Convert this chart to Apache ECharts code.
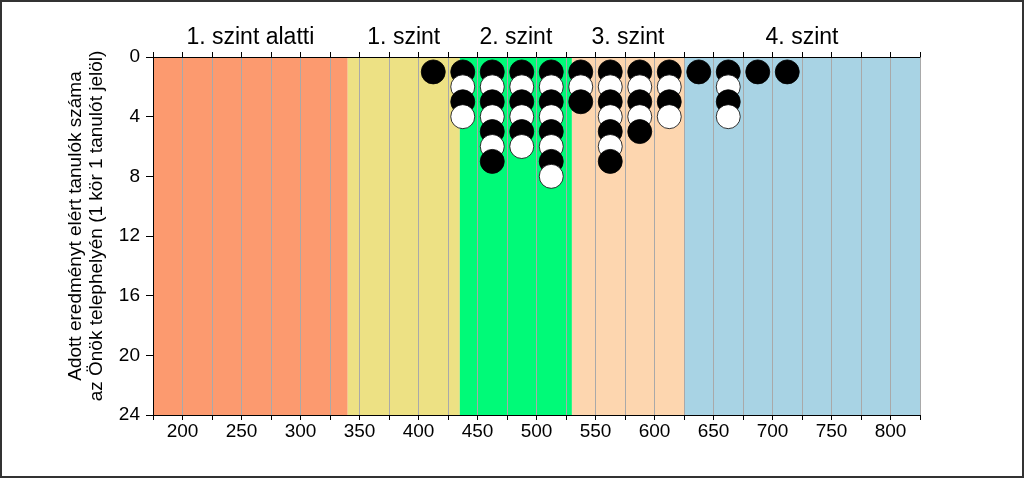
<!DOCTYPE html>
<html><head><meta charset="utf-8">
<script src="https://cdn.jsdelivr.net/npm/echarts@6/dist/echarts.min.js"></script>
<style>html,body{margin:0;padding:0;background:#fff}#c{width:1024px;height:478px}</style>
</head><body><div id="c"></div>
<script>
// score bins (centre of each 25-point bin) and number of students in each
const scoreBins = [412.5, 437.5, 462.5, 487.5, 512.5, 537.5, 562.5, 587.5, 612.5, 637.5, 662.5, 687.5, 712.5];
const studentCounts = [1, 4, 7, 6, 8, 3, 7, 5, 4, 1, 4, 1, 1];
// proficiency levels
const levelNames = ['1. szint alatti', '1. szint', '2. szint', '3. szint', '4. szint'];
const levelFrom = [175, 340, 435, 530, 625];
const levelTo = [340, 435, 530, 625, 825];
const levelColors = ['#FC9A6F', '#EDE184', '#00FA78', '#FDD6AF', '#A8D3E4'];
const yAxisTitle = ['Adott eredményt elért tanulók száma', 'az Önök telephelyén (1 kör 1 tanulót jelöl)'];

const FONT = "'Liberation Sans', Arial, sans-serif";

const points = [];
scoreBins.forEach((x, i) => {
  for (let k = 1; k <= studentCounts[i]; k++) {
    const black = k % 2 === 1;
    points.push({
      value: [x, k],
      itemStyle: black ? { color: '#000', borderColor: '#000', borderWidth: 0.8, opacity: 1 }
                       : { color: '#fff', borderColor: '#000', borderWidth: 0.8, opacity: 1 }
    });
  }
});

const areas = levelNames.map((n, i) => [
  { name: n, xAxis: levelFrom[i], itemStyle: { color: levelColors[i], opacity: 1 } },
  { xAxis: levelTo[i] }
]);

const chart = echarts.init(document.getElementById('c'), null, { renderer: 'canvas' });
chart.setOption({
  animation: false,
  backgroundColor: '#fff',
  grid: { left: 153, right: 104, top: 57, bottom: 63, containLabel: false },
  xAxis: [{
    type: 'value', position: 'bottom', min: 175, max: 825, interval: 25, z: 2,
    axisLine: { show: true, onZero: false, lineStyle: { color: '#000', width: 1 } },
    axisTick: { show: true, length: 5, lineStyle: { color: '#000' } },
    axisLabel: { show: true, margin: 7, fontSize: 19, color: '#000', fontFamily: FONT,
      formatter: v => (v % 50 === 0 ? String(v) : '') , showMinLabel: true, showMaxLabel: true, hideOverlap: false },
    splitLine: { show: true, lineStyle: { color: '#A9A9A9', width: 1, opacity: 1 } }
  }, {
    type: 'value', position: 'top', min: 175, max: 825, interval: 25, z: 2,
    axisLine: { show: true, onZero: false, lineStyle: { color: '#000', width: 1 } },
    axisTick: { show: true, length: 5, lineStyle: { color: '#000' } },
    axisLabel: { show: false },
    splitLine: { show: false }
  }],
  yAxis: {
    type: 'value', inverse: true, min: 0, max: 24, interval: 4, z: 2,
    axisLine: { show: true, onZero: false, lineStyle: { color: '#000', width: 1 } },
    axisTick: { show: true, length: 7, lineStyle: { color: '#000' } },
    axisLabel: { show: true, margin: 13, fontSize: 19, color: '#000', fontFamily: FONT },
    splitLine: { show: false }
  },
  graphic: [{
    type: 'text', x: 86, y: 226, rotation: Math.PI / 2, z: 10,
    style: { text: yAxisTitle.join('\n'), font: '19px ' + FONT, fill: '#000',
      align: 'center', verticalAlign: 'middle', lineHeight: 21 }
  }, {
    type: 'rect', z: 10, silent: true,
    shape: { x: 1, y: 1, width: 1022, height: 476 },
    style: { fill: 'none', stroke: '#333', lineWidth: 2 }
  }],
  series: [{
    type: 'scatter', z: 1, data: [], silent: true,
    markArea: {
      silent: true,
      label: { show: true, position: 'top', distance: 8, fontSize: 23, color: '#000', fontFamily: FONT },
      data: areas
    }
  }, {
    type: 'scatter', z: 3, symbol: 'circle', symbolSize: 24, silent: true,
    itemStyle: { opacity: 1 },
    data: points
  }]
});
</script></body></html>
